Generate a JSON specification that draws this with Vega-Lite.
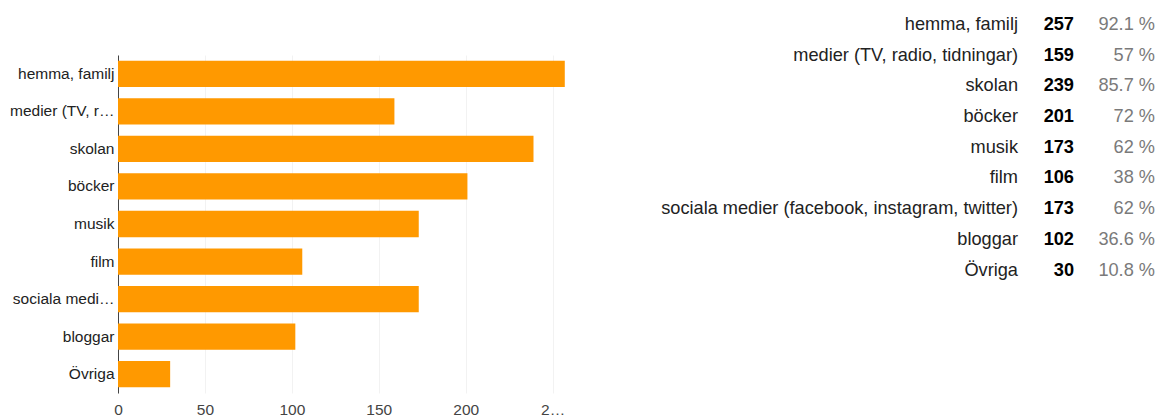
{
  "$schema": "https://vega.github.io/schema/vega-lite/v6.json",
  "width": 1042,
  "height": 338,
  "autosize": {"type": "none"},
  "padding": {"left": 118, "top": 55, "right": 0, "bottom": 23},
  "background": "white",
  "config": {"view": {"stroke": null}, "font": "Liberation Sans"},
  "data": {"values": [
    {"kategori": "hemma, familj", "antal": 257, "andel": "92.1 %"},
    {"kategori": "medier (TV, radio, tidningar)", "antal": 159, "andel": "57 %"},
    {"kategori": "skolan", "antal": 239, "andel": "85.7 %"},
    {"kategori": "böcker", "antal": 201, "andel": "72 %"},
    {"kategori": "musik", "antal": 173, "andel": "62 %"},
    {"kategori": "film", "antal": 106, "andel": "38 %"},
    {"kategori": "sociala medier (facebook, instagram, twitter)", "antal": 173, "andel": "62 %"},
    {"kategori": "bloggar", "antal": 102, "andel": "36.6 %"},
    {"kategori": "Övriga", "antal": 30, "andel": "10.8 %"}
  ]},
  "resolve": {"scale": {"x": "independent", "y": "independent"}, "axis": {"x": "independent", "y": "independent"}},
  "layer": [
    {
      "mark": {"type": "bar", "color": "#ff9900"},
      "encoding": {
        "y": {
          "field": "kategori", "type": "nominal", "sort": null, "title": null,
          "scale": {"paddingInner": 0.3, "paddingOuter": 0.15},
          "axis": {"labelLimit": 107, "labelFontSize": 15.5, "labelColor": "#222222", "labelPadding": 4, "ticks": false, "domainColor": "#444444", "grid": false}
        },
        "x": {
          "field": "antal", "type": "quantitative", "title": null,
          "scale": {"domain": [0, 260], "range": [0, 452], "nice": false},
          "axis": {"values": [0, 50, 100, 150, 200, 250], "labelExpr": "datum.value == 250 ? '2…' : datum.label", "labelFlush": false, "domain": false, "ticks": false, "labelFontSize": 15.5, "labelColor": "#444444", "labelPadding": 9, "gridColor": "#f2f2f2"}
        }
      }
    },
    {
      "encoding": {
        "y": {"field": "kategori", "type": "nominal", "sort": null, "scale": {"type": "point", "range": [-30, 215.5], "padding": 0}, "axis": null}
      },
      "layer": [
        {
          "mark": {"type": "text", "align": "right", "baseline": "middle", "fontSize": 18.2, "color": "#222222"},
          "encoding": {
            "x": {"datum": "kategori", "type": "nominal", "scale": {"type": "point", "domain": ["kategori", "antal", "andel"], "range": [900, 1037], "padding": 0}, "axis": null},
            "text": {"field": "kategori"}
          }
        },
        {
          "mark": {"type": "text", "align": "right", "baseline": "middle", "fontSize": 18.2, "fontWeight": "bold", "color": "#000000", "dx": -12.5},
          "encoding": {
            "x": {"datum": "antal", "type": "nominal"},
            "text": {"field": "antal"}
          }
        },
        {
          "mark": {"type": "text", "align": "right", "baseline": "middle", "fontSize": 18.2, "color": "#7a7a7a"},
          "encoding": {
            "x": {"datum": "andel", "type": "nominal"},
            "text": {"field": "andel"}
          }
        }
      ]
    }
  ]
}
